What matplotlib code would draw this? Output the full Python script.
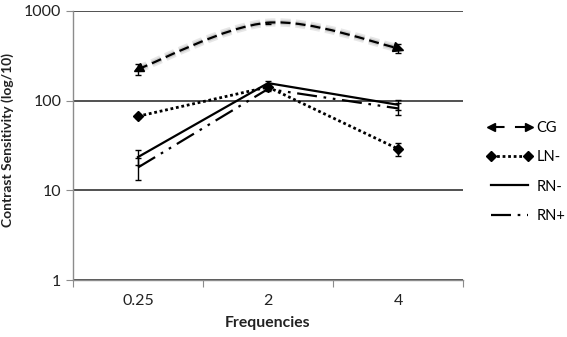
import numpy as np
import matplotlib
matplotlib.use('Agg')
import matplotlib.pyplot as plt
import matplotlib.patheffects as pe
from matplotlib.path import Path
from matplotlib.patches import PathPatch
from matplotlib.lines import Line2D
from matplotlib.markers import MarkerStyle
from matplotlib.transforms import Affine2D
from matplotlib.ticker import NullLocator, FixedLocator
from matplotlib.legend_handler import HandlerBase

plt.rcParams['font.family'] = ['Lato', 'DejaVu Sans']

# values
freqs = ['0.25', '2', '4']
cg = [225, 740, 385]
cg_err = [33, 15, 45]
ln_minus = [67, 142, 29]
ln_minus_err = [3, 8, 5]
rn_minus = [23.5, 157, 90]
rn_minus_err = [4.5, 10, 12]
rn_plus = [18, 135, 82]
rn_plus_err = [5, 8, 12]


def smooth_path(x, y):
    # excel style smoothed line (bezier), built in log space
    px = np.asarray(x, float)
    py = np.log10(y)
    n = len(px)
    verts = [(px[0], py[0])]
    codes = [Path.MOVETO]
    for i in range(n - 1):
        prev = max(i - 1, 0)
        nxt = min(i + 2, n - 1)
        c1 = (px[i] + (px[i + 1] - px[prev]) / 6, py[i] + (py[i + 1] - py[prev]) / 6)
        c2 = (px[i + 1] - (px[nxt] - px[i]) / 6, py[i + 1] - (py[nxt] - py[i]) / 6)
        verts += [c1, c2, (px[i + 1], py[i + 1])]
        codes += [Path.CURVE4] * 3
    verts = np.array(verts)
    verts[:, 1] = 10 ** verts[:, 1]
    return Path(verts, codes)


class HandlerArrows(HandlerBase):
    # dashed line with an arrow head at each end (legend only)
    def create_artists(self, legend, orig_handle, xdescent, ydescent, width, height, fontsize, trans):
        y = height / 2 - ydescent
        x0 = -xdescent + 0.25 * fontsize
        x1 = -xdescent + width - 0.25 * fontsize
        line = Line2D([x0, x1], [y, y], color='k', lw=1.5, ls=(0, (6.5, 5)))
        left = Line2D([x0], [y], color='k', marker='<', ms=6, ls='none')
        right = Line2D([x1], [y], color='k', marker='>', ms=6, ls='none')
        for a in (line, left, right):
            a.set_transform(trans)
        return [line, left, right]


fig = plt.figure(figsize=(5.67, 3.37), dpi=100)
ax = fig.add_axes([73 / 567, 1 - 280 / 337, 390 / 567, 269 / 337])
ax.set_yscale('log')

x = np.arange(len(freqs))

# CG - smoothed dashed line with arrow ends
cg_patch = PathPatch(smooth_path(x, cg), fill=False, color='k', lw=1.6,
                     ls=(0, (4.5, 2.3)), zorder=3,
                     path_effects=[pe.Stroke(linewidth=6, foreground='#d8d8d8', alpha=0.6),
                                   pe.Stroke(linewidth=3.5, foreground='#bbbbbb', alpha=0.6),
                                   pe.Normal()])
ax.add_patch(cg_patch)
ax.plot(x[0], cg[0], ls='none', color='k', ms=7, zorder=4,
        marker=MarkerStyle('<', transform=Affine2D().rotate_deg(25)))
ax.plot(x[-1], cg[-1], ls='none', color='k', ms=7, zorder=4,
        marker=MarkerStyle('>', transform=Affine2D().rotate_deg(-20)))
ax.errorbar(x, cg, yerr=cg_err, fmt='none', ecolor='k', elinewidth=1, capsize=2.5, capthick=1, zorder=4)

ax.plot(x, ln_minus, color='k', lw=2, ls=(0, (1, 1)), marker='D', ms=5, zorder=3)
ax.errorbar(x, ln_minus, yerr=ln_minus_err, fmt='none', ecolor='k', elinewidth=1, capsize=2.5, capthick=1, zorder=4)

ax.plot(x, rn_minus, color='k', lw=1.6, zorder=3)
ax.errorbar(x, rn_minus, yerr=rn_minus_err, fmt='none', ecolor='k', elinewidth=1, capsize=2.5, capthick=1, zorder=4)

ax.plot(x, rn_plus, color='k', lw=1.6, ls=(0, (9, 3, 1.2, 3, 1.2, 3)), zorder=3)
ax.errorbar(x, rn_plus, yerr=rn_plus_err, fmt='none', ecolor='k', elinewidth=1, capsize=2.5, capthick=1, zorder=4)

# axes
ax.set_xlim(-0.5, len(freqs) - 0.5)
ax.set_ylim(1, 1000)
ax.set_yticks([1, 10, 100, 1000])
ax.set_yticklabels(['1', '10', '100', '1000'])
ax.yaxis.set_minor_locator(NullLocator())
ax.grid(axis='y', color='#333333', lw=1.2)
ax.set_axisbelow(True)

ax.xaxis.set_major_locator(FixedLocator(np.arange(len(freqs) + 1) - 0.5))
ax.xaxis.set_minor_locator(FixedLocator(x))
ax.set_xticklabels([], minor=False)
ax.set_xticklabels(freqs, minor=True)
ax.tick_params(axis='x', which='major', direction='out', length=5, color='#8c8c8c')
ax.tick_params(axis='x', which='minor', length=0, pad=10, labelsize=11.5, labelcolor='#222222')
ax.tick_params(axis='y', direction='out', length=5, color='#8c8c8c', labelsize=11.5, labelcolor='#222222')

for s in ['top', 'right']:
    ax.spines[s].set_visible(False)
for s in ['left', 'bottom']:
    ax.spines[s].set_color('#8c8c8c')
    ax.spines[s].set_linewidth(1)

ax.set_ylabel('Contrast Sensitivity (log/10)', fontsize=10, fontweight='bold', color='#222222')
ax.yaxis.set_label_coords(-0.152, 0.52)
ax.set_xlabel('Frequencies', fontsize=11.3, fontweight='bold', color='#222222')
ax.xaxis.set_label_coords(0.5, -0.135)

# legend
ln_handle = Line2D([], [], color='k', lw=2, ls=(0, (1, 1)), marker='D', ms=5)
rnm_handle = Line2D([], [], color='k', lw=1.6)
rnp_handle = Line2D([], [], color='k', lw=1.6, ls=(0, (9, 3, 1.2, 3, 1.2, 3)))
cg_handle = Line2D([], [], color='k')
ax.legend([cg_handle, ln_handle, rnm_handle, rnp_handle], ['CG', 'LN-', 'RN-', 'RN+'],
          handler_map={cg_handle: HandlerArrows()},
          numpoints=2, handlelength=3.1, handletextpad=0.3, labelspacing=1.05,
          frameon=False, loc='center left', bbox_to_anchor=(487 / 567, 0.49),
          bbox_transform=fig.transFigure, borderpad=0, borderaxespad=0, fontsize=10.5)

fig.savefig('out.png', dpi=100)
